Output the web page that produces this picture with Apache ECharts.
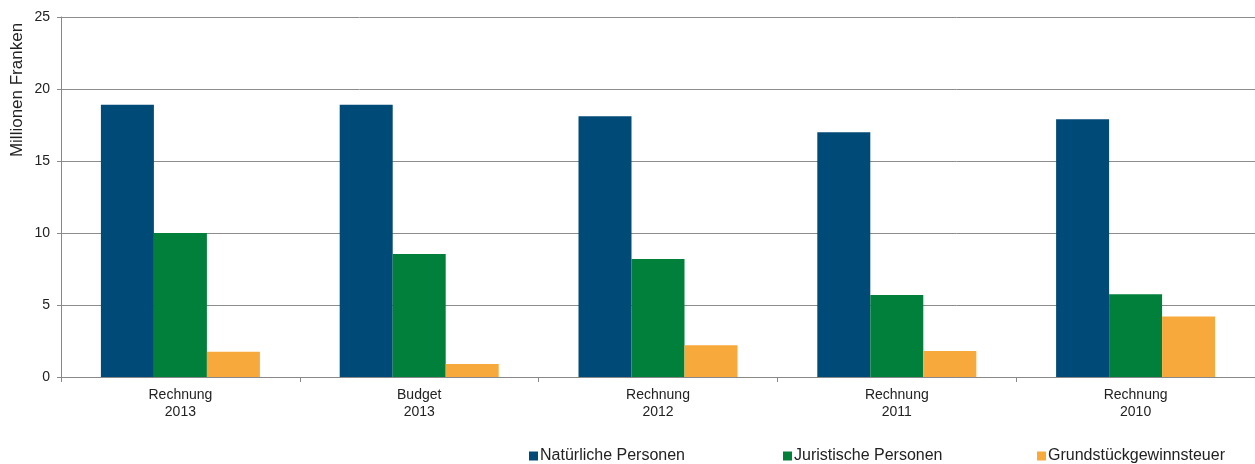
<!DOCTYPE html>
<html>
<head>
<meta charset="utf-8">
<script src="https://cdn.jsdelivr.net/npm/echarts@6/dist/echarts.min.js"></script>
<style>html,body{margin:0;padding:0;background:#fff;}#c{width:1255px;height:464px;}</style>
</head>
<body>
<div id="c"></div>
<script>
const categories = ['Rechnung\n2013', 'Budget\n2013', 'Rechnung\n2012', 'Rechnung\n2011', 'Rechnung\n2010'];
const seriesNames = ['Natürliche Personen', 'Juristische Personen', 'Grundstückgewinnsteuer'];
const natuerlich = [18.9, 18.9, 18.1, 17.0, 17.9];
const juristisch = [10.0, 8.55, 8.2, 5.7, 5.75];
const grundstueck = [1.75, 0.9, 2.2, 1.8, 4.2];
const yTicks = [0, 5, 10, 15, 20, 25];

const colors = ['#004A78', '#00803B', '#F8A93B'];
const font = 'Liberation Sans, Arial, sans-serif';
const chart = echarts.init(document.getElementById('c'), null, {renderer: 'canvas'});
const values = [natuerlich, juristisch, grundstueck];
const legendLefts = [524, 778, 1032];

chart.setOption({
  animation: false,
  backgroundColor: '#fff',
  grid: {left: 61, right: 0, top: 17, bottom: 87, containLabel: false},
  legend: seriesNames.map((n, i) => ({
    data: [n], left: legendLefts[i], top: 443, itemWidth: 9, itemHeight: 9, itemGap: 3,
    icon: 'rect', textStyle: {fontFamily: font, fontSize: 16, color: '#222', padding: [0,0,0,-3]}
  })),
  graphic: [{
    type: 'text', x: 17, y: 90, rotation: Math.PI / 2,
    style: {text: 'Millionen Franken', fontFamily: font, fontSize: 17, fill: '#222', align: 'center', verticalAlign: 'middle'}
  }],
  xAxis: {
    type: 'category', data: categories,
    axisLine: {lineStyle: {color: '#888', width: 1}},
    axisTick: {show: true, alignWithLabel: false, length: 5, lineStyle: {color: '#888'}},
    axisLabel: {fontFamily: font, fontSize: 14, color: '#222', lineHeight: 17, margin: 10}
  },
  yAxis: {
    type: 'value', min: 0, max: 25, interval: 5,
    axisLine: {show: true, lineStyle: {color: '#888'}},
    axisTick: {show: true, inside: false, length: 4, lineStyle: {color: '#888'}},
    axisLabel: {fontFamily: font, fontSize: 14, color: '#222', margin: 11,
      formatter: v => yTicks.includes(v) ? String(v) : ''},
    splitLine: {show: true, lineStyle: {color: '#8c8c8c', width: 1}}
  },
  series: seriesNames.map((n, i) => ({
    name: n, type: 'bar', data: values[i], barWidth: 53, barGap: '0%',
    itemStyle: {color: colors[i]}
  }))
});
</script>
</body>
</html>
